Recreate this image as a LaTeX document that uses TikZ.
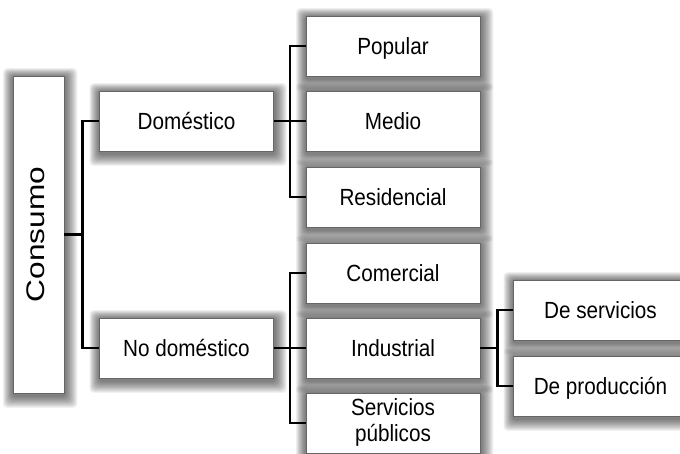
\documentclass[tikz,border=0pt]{standalone}
\usepackage{fontspec}
\setmainfont{Liberation Sans}
\usepackage{graphicx}
\pgfdeclarelayer{bg}
\pgfsetlayers{bg,main}
\newcommand{\vs}[1]{\scalebox{1}[1.13]{#1}}
\begin{document}
\begin{tikzpicture}[x=1pt,y=-1pt,
  boxbase/.style={draw=black!60, line width=0.8pt, fill=white, inner sep=0pt,
    text=black},
  box/.style={boxbase, minimum width=174pt, minimum height=60pt,
    font=\fontsize{20.7}{23.5}\selectfont, text height=16.8pt, text depth=0pt},
  box2/.style={boxbase, minimum width=174pt, minimum height=60pt,
    font=\fontsize{20.7}{23.5}\selectfont, align=center},
  glow/.style={fill=black, opacity=0.055, rounded corners=4pt},
  conn/.style={line width=2.2pt, black}]
\useasboundingbox (0,0) rectangle (680,453);
\clip (0,0) rectangle (680,453);

\node[boxbase, minimum width=51pt, minimum height=317pt, font=\fontsize{25.5}{28}\selectfont]
  (cons) at (38.5,234.5) {\rotatebox{90}{\raisebox{0pt}[\height][6pt]{\scalebox{1.24}[1]{Consumo}}}};

\node[box] (dom)   at (186.5,121) {\vs{Doméstico}};
\node[box] (nodom) at (186.5,348) {\vs{No doméstico}};

\node[box] (pop) at (393,46)  {\vs{Popular}};
\node[box] (med) at (393,121) {\vs{Medio}};
\node[box] (res) at (393,197) {\vs{Residencial}};

\node[box] (com) at (393,273) {\vs{Comercial}};
\node[box] (ind) at (393,348) {\vs{Industrial}};
\node[box2] (ser) at (393,423) {\vs{\begin{tabular}{@{}c@{}}Servicios\\[-1pt] públicos\end{tabular}}};

\node[box] (dser)  at (600.5,310) {\vs{De servicios}};
\node[box] (dprod) at (600.5,386) {\vs{De producción}};

\begin{pgfonlayer}{bg}
  \foreach \n in {cons,dom,nodom,pop,med,res,com,ind,ser,dser,dprod}{
    \foreach \k in {1,...,12}{
      \fill[glow] ([shift={(-0.8*\k,-0.7*\k+1)}]\n.north west)
        rectangle ([shift={(1.0*\k+1,1.0*\k+2.5)}]\n.south east);
    }
  }
\end{pgfonlayer}

\draw[conn] (cons.east) -- ++(18,0) coordinate (b1);
\draw[conn] (dom.west) -| (b1) |- (nodom.west);

\draw[conn] (dom.east) -- ++(16,0) coordinate (b2);
\draw[conn] (pop.west) -| (b2) |- (res.west);
\draw[conn] (b2) -- (med.west);

\draw[conn] (nodom.east) -- ++(16,0) coordinate (b3);
\draw[conn] (com.west) -| (b3) |- (ser.west);
\draw[conn] (b3) -- (ind.west);

\draw[conn] (ind.east) -- ++(17,0) coordinate (b4);
\draw[conn] (dser.west) -| (b4) |- (dprod.west);
\end{tikzpicture}
\end{document}
